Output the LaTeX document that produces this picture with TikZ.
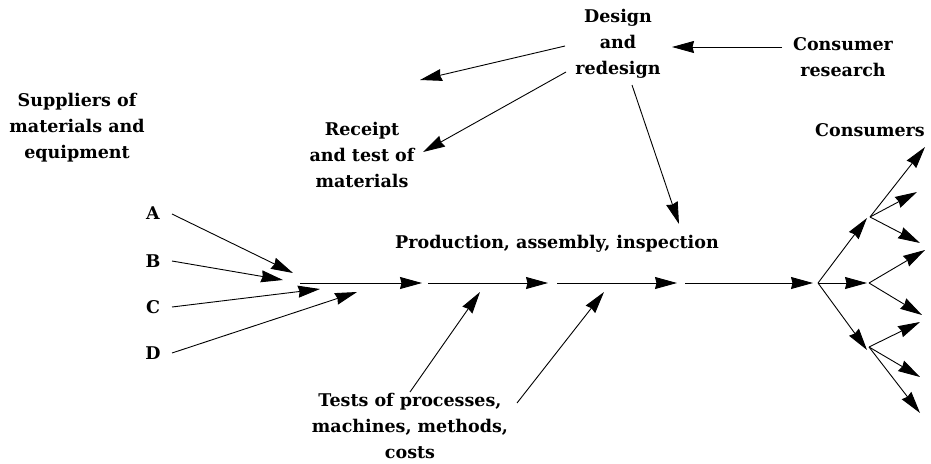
\documentclass[tikz,border=0pt]{standalone}
\usepackage{fontspec}
\setmainfont{DejaVu Serif}
\usetikzlibrary{arrows.meta}
\begin{document}
\begin{tikzpicture}[x=1pt,y=-1pt,
  lbl/.style={inner sep=0pt, align=center, font=\fontsize{17.5}{26}\selectfont\bfseries},
  arr/.style={line width=0.9pt, -{Stealth[length=22pt,width=12pt,inset=1.5pt]}},
  ln/.style={line width=0.9pt}]
\useasboundingbox (0,0) rectangle (931,463);
% text nodes
\node[lbl] (design) at (618,44) {Design\\and\\redesign};
\node[lbl] (consumer) at (843,57) {Consumer\\research};
\node[lbl] (suppliers) at (77,128) {Suppliers of\\materials and\\equipment};
\node[lbl] (receipt) at (362,155) {Receipt\\and test of\\materials};
\node[lbl] (consumers) at (870,130) {Consumers};
\node[lbl] (prod) at (557,244) {Production, assembly, inspection};
\node[lbl] (tests) at (410,426) {Tests of processes,\\machines, methods,\\costs};
\node[lbl] (A) at (153,213) {A};
\node[lbl] (B) at (153,261) {B};
\node[lbl] (C) at (153,307) {C};
\node[lbl] (D) at (153,353) {D};
% coordinates
\coordinate (crS) at (782,47); \coordinate (crT) at (672,47);
\coordinate (d1S) at (565,46); \coordinate (d1T) at (420,80);
\coordinate (d2S) at (566,72); \coordinate (d2T) at (423,152);
\coordinate (d3S) at (632,85); \coordinate (d3T) at (679,224);
\coordinate (aS) at (172,214); \coordinate (aT) at (293,273);
\coordinate (bS) at (172,261); \coordinate (bT) at (283,280);
\coordinate (cS) at (172,307); \coordinate (cT) at (320,289);
\coordinate (dS) at (172,353); \coordinate (dT) at (357,292);
\coordinate (m1) at (300,283); \coordinate (m1T) at (422,283);
\coordinate (m2) at (428,283); \coordinate (m2T) at (548,283);
\coordinate (m3) at (557,283); \coordinate (m3T) at (677,283);
\coordinate (m4) at (685,283); \coordinate (m4T) at (813,283);
\coordinate (t1S) at (410,392); \coordinate (t1T) at (480,292);
\coordinate (t2S) at (517,403); \coordinate (t2T) at (604,292);
\coordinate (f0) at (818,283);
\coordinate (fu) at (867,218); \coordinate (fm) at (867,283); \coordinate (fl) at (867,350);
\coordinate (u0) at (870,217); \coordinate (m0) at (869,283); \coordinate (l0) at (869,347);
\coordinate (u1) at (925,147); \coordinate (u2) at (917,192); \coordinate (u3) at (920,243);
\coordinate (mm1) at (925,250); \coordinate (mm2) at (922,315);
\coordinate (l1) at (920,322); \coordinate (l2) at (920,377); \coordinate (l3) at (920,413);
% connectors
\draw[arr] (crS) -- (crT);
\draw[arr] (d1S) -- (d1T);
\draw[arr] (d2S) -- (d2T);
\draw[arr] (d3S) -- (d3T);
\draw[arr] (aS) -- (aT);
\draw[arr] (bS) -- (bT);
\draw[arr] (cS) -- (cT);
\draw[arr] (dS) -- (dT);
\draw[arr] (m1) -- (m1T);
\draw[arr] (m2) -- (m2T);
\draw[arr] (m3) -- (m3T);
\draw[arr] (m4) -- (m4T);
\draw[arr] (t1S) -- (t1T);
\draw[arr] (t2S) -- (t2T);
\draw[arr] (f0) -- (fu);
\draw[arr] (f0) -- (fm);
\draw[arr] (f0) -- (fl);
\draw[arr] (u0) -- (u1);
\draw[arr] (u0) -- (u2);
\draw[arr] (u0) -- (u3);
\draw[arr] (m0) -- (mm1);
\draw[arr] (m0) -- (mm2);
\draw[arr] (l0) -- (l1);
\draw[arr] (l0) -- (l2);
\draw[arr] (l0) -- (l3);
\end{tikzpicture}
\end{document}
